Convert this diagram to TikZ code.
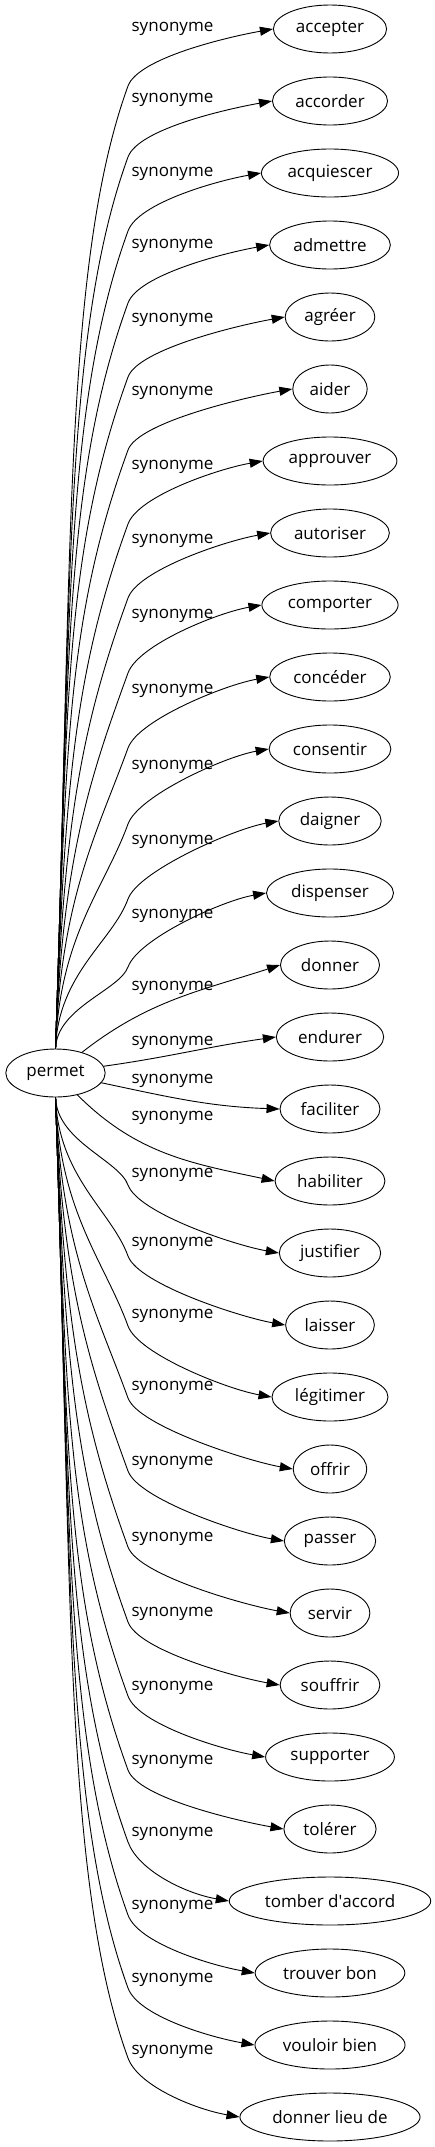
\documentclass[tikz,border=0pt]{standalone}
\usepackage{fontspec}
\setmainfont{Open Sans}
\usetikzlibrary{arrows.meta,shapes.geometric}

\tikzset{
    word/.style={draw, ellipse, line width=0.9pt, inner xsep=6pt, inner ysep=2pt, minimum height=48pt, font=\fontsize{17}{20}\selectfont},
    rel/.style={font=\fontsize{17}{20}\selectfont},
    edge/.style={line width=0.9pt, -{Triangle[length=13pt, width=9pt]}},
}

\begin{document}
\begin{tikzpicture}[x=1pt, y=1pt]
    \useasboundingbox (0,0) rectangle (435,-2147);

    % Source word
    \node[word] (permet) at (55.5,-1073) {permet};

    % Synonyms and their edge labels
    \foreach \i/\word/\ly in {0/accepter/29, 1/accorder/100, 2/acquiescer/174, 3/admettre/246,
        4/agréer/320, 5/aider/393, 6/approuver/467, 7/autoriser/541, 8/comporter/616,
        9/concéder/691, 10/consentir/767, 11/daigner/842, 12/dispenser/916, 13/donner/988,
        14/endurer/1043, 15/faciliter/1081, 16/habiliter/1118, 17/justifier/1175,
        18/laisser/1244, 19/légitimer/1316, 20/offrir/1388, 21/passer/1463, 22/servir/1539,
        23/souffrir/1614, 24/supporter/1688, 25/tolérer/1762, 26/tomber d\textquotesingle accord/1834,
        27/trouver bon/1907, 28/vouloir bien/1980, 29/donner lieu de/2052} {
        \node[word] (t\i) at (330,{-29-72*\i}) {\word};
        \node[rel] (l\i) at (172.5,-\ly) {synonyme};
    }

    % Upper edges, bent just below their label
    \foreach \i/\my in {0/86, 1/157, 2/231, 3/303, 4/377, 5/450, 6/524, 7/598, 8/673,
        9/748, 10/824, 11/899, 12/967} {
        \coordinate (m\i) at (128,-\my);
        \pgfmathsetmacro\a{0.5*(1049-\my)}
        \pgfmathsetmacro\b{min(0.3*(1049-\my),190)}
        \draw[edge] (permet.north) .. controls +(88:\a) and +(250:\b) .. (m\i)
            .. controls +(70:30) and +(190:45) .. (t\i.west);
    }

    % Middle edges
    \draw[edge] (permet) to[out=38, in=198] (t13.west);
    \draw[edge] (permet) to[out=8, in=188] (t14.west);
    \draw[edge] (permet) to[out=-12, in=178] (t15.west);
    \draw[edge] (permet) to[out=-45, in=168] (t16.west);

    % Lower edges
    \foreach \i/\my in {17/1185, 18/1256, 19/1326, 20/1398, 21/1471, 22/1547, 23/1622,
        24/1696, 25/1770, 26/1842, 27/1915, 28/1988, 29/2058} {
        \coordinate (m\i) at (128,-\my);
        \pgfmathsetmacro\a{0.5*(\my-1097)}
        \pgfmathsetmacro\b{min(0.3*(\my-1097),190)}
        \draw[edge] (permet.south) .. controls +(-88:\a) and +(110:\b) .. (m\i)
            .. controls +(-70:30) and +(170:45) .. (t\i.west);
    }
\end{tikzpicture}
\end{document}
